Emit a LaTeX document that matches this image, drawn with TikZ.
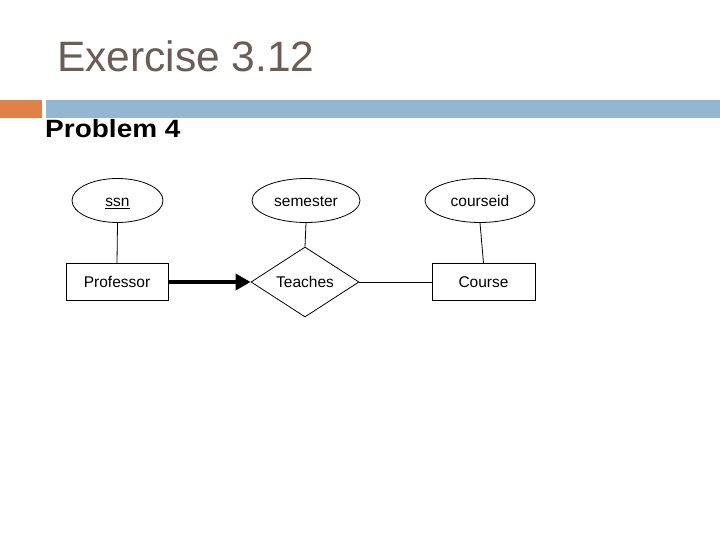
\documentclass[tikz,border=0pt]{standalone}
\usepackage{fontspec}
\setmainfont{Liberation Sans}
\usetikzlibrary{shapes.geometric,arrows.meta}
\definecolor{titlecol}{RGB}{106,92,86}
\definecolor{barorange}{RGB}{224,130,72}
\definecolor{barblue}{RGB}{148,182,210}
\tikzset{
  erfont/.style={font=\fontsize{15.5bp}{18bp}\selectfont, text height=11.5bp, text depth=0bp},
  attr/.style={draw, ellipse, line width=0.8bp, inner sep=0pt, minimum width=#1, minimum height=44bp, erfont},
  entity/.style={draw, rectangle, line width=0.8bp, inner sep=0pt, minimum width=102bp, minimum height=37bp, erfont},
  rel/.style={draw, diamond, line width=0.8bp, inner sep=0pt, aspect=1.54, minimum width=108bp, minimum height=70bp, erfont},
  conn/.style={line width=0.8bp},
  thickarrow/.style={line width=4.5bp, -{Triangle[length=15bp,width=16bp]}}
}
\begin{document}
\begin{tikzpicture}[x=1bp,y=-1bp]
\useasboundingbox (0,0) rectangle (720,540);
\fill[white] (0,0) rectangle (720,540);
% header
\node[anchor=base west, inner sep=0pt, text=titlecol, font=\fontsize{42.5bp}{50bp}\selectfont] (title) at (57,72) {Exercise 3.12};
\fill[barorange] (0,100) rectangle (42,118);
\fill[barblue] (46,100) rectangle (720,118);
\node[anchor=base west, inner sep=0pt, font=\fontsize{25bp}{30bp}\selectfont\bfseries] (prob) at (45,138) {\scalebox{1.12}[1]{Problem 4}};
% diagram
\node[attr=91bp] (ssn) at (117.5,200.5) {\underline{ssn}};
\node[attr=108bp] (sem) at (306,200.5) {semester};
\node[attr=110bp] (cid) at (480,200.5) {courseid};
\node[entity] (prof) at (117,282) {Professor};
\node[rel] (teach) at (305,282) {Teaches};
\node[entity, minimum width=103bp] (course) at (483.5,282) {Course};
\draw[conn] (ssn.south) -- (prof.north);
\draw[conn] (sem.south) -- (teach.north);
\draw[conn] (cid.south) -- (course.north);
\draw[conn] (teach.east) -- (course.west);
\draw[thickarrow] (prof.east) -- (teach.west);
\end{tikzpicture}
\end{document}
